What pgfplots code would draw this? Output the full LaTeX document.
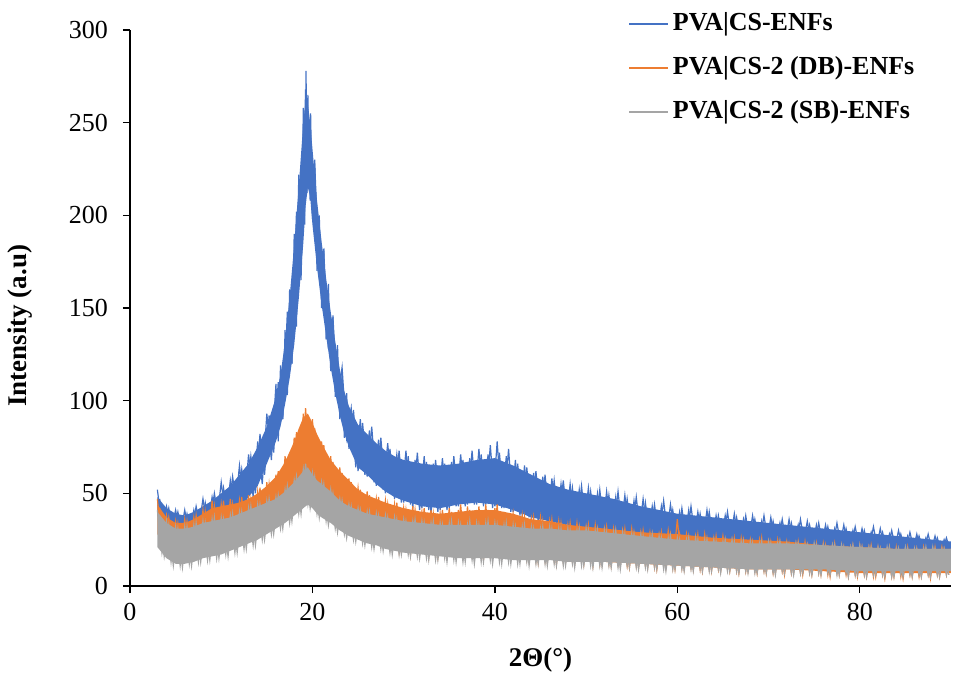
\documentclass[border=0pt]{standalone}
\usepackage{fontspec}
\setmainfont{Liberation Serif}
\usepackage{pgfplots}
\usepackage{pgfplotstable}
\pgfplotsset{compat=1.18}
\definecolor{cblue}{RGB}{68,114,196}
\definecolor{corange}{RGB}{237,125,49}
\definecolor{cgray}{RGB}{165,165,165}

% ---------- band envelopes (upper edge forward, lower edge back) ----------
\pgfplotstableread{
x y
3 48
4 42
5 39
6 38
7 40
8 43
9 46
10 50
11 54
12 60
13 66
14 75
15 86
16 102
16.5 114
17 132
17.5 156
18 184
18.5 216
19 250
19.25 262
19.5 260
19.75 250
20 236
20.5 208
21 186
21.5 166
22 148
22.5 132
23 117
23.5 105
24 97
25 87
26 82
27 77
28 73
29 70
30 68
32 66
34 65
36 66
38 68
40 69
42 65
44 60
46 55
48 52
50 50
53 47
56 43
60 39
64 37
68 35
72 33
76 31
80 29
84 27
88 25
90 24
90 18
88 18
84 19
80 20
76 21
72 22
68 23
64 24
60 25
56 27
53 29
50 31
48 33
46 35
44 37
42 41
40 44
38 45
36 44
34 42
32 43
30 46
29 48
28 51
27 55
26 60
25 64
24 75
23.5 82
23 92
22.5 104
22 118
21.5 135
21 152
20.5 172
20 195
19.75 210
19.5 215
19.25 205
19 185
18.5 155
18 130
17.5 112
17 98
16.5 86
16 78
15 66
14 54
13 48
12 43
11 40
10 37
9 34
8 32
7 30
6 29
5 29
4 32
3 38
}\blueE

\pgfplotstableread{
x y
3 44
4 37
5 34
6 34
7 36
8 39
9 42
10 43
11 44
12 45
13 47
14 50
15 54
16 59
17 67
18 78
18.5 85
19 91
19.5 93
20 88
20.5 82
21 77
22 68
23 62
24 57
25 52
26 49
27 47
28 45
30 42
32 40
34 39
36 40
38 41
40 41
42 39
44 36
46 35
48 33
50 32
52 31
56 29
60 28
64 26
68 25
72 24
76 22
80 21
84 20
88 20
90 20
90 7
88 7
84 7
80 7
76 8
72 9
68 9
64 10
60 11
56 12
52 13
50 14
48 14
46 15
44 15
42 16
40 16
38 16
36 17
34 17
32 18
30 19
28 22
27 24
26 26
25 29
24 32
23 36
22 40
21 47
20.5 51
20 56
19.5 60
19 57
18.5 52
18 47
17 40
16 35
15 31
14 28
13 26
12 24
11 23
10 22
9 21
8 20
7 19
6 18
5 19
4 22
3 28
}\orangeE

\pgfplotstableread{
x y
3 40
4 34
5 31
6 31
7 32
8 34
9 35
10 36
11 37
12 39
13 41
14 43
15 45
16 47
17 51
18 56
18.5 59
19 62
19.5 64
20 60
20.5 57
21 55
22 51
23 46
24 43
25 41
26 39
27 38
28 37
30 35
32 34
34 33
36 33
38 33
40 33
42 32
44 31
46 31
48 30
50 30
52 29
56 27
60 25
64 24
68 23
72 23
76 22
80 21
84 20
88 20
90 20
90 8
88 8
84 8
80 8
76 9
72 9
68 9
64 10
60 11
56 12
52 13
50 13
48 13
46 14
44 14
42 14
40 15
38 15
36 15
34 16
32 17
30 18
28 20
27 22
26 23
25 25
24 27
23 30
22 34
21 37
20.5 39
20 42
19.5 44
19 42
18.5 40
18 38
17 34
16 31
15 28
14 25
13 23
12 21
11 19
10 17
9 16
8 15
7 13
6 12
5 12
4 15
3 21
}\grayE

% ---------- noisy traces (alternating highs and lows read off the bands) ----------
\pgfplotstableread{
x y
3 52
3.5 33
4 43
4.5 29
5 41
5.5 27
6 41
6.5 27
7 41
7.5 30
8 47
8.5 31
9 48
9.5 34
10 56
10.5 36
11 57
11.5 40
12 65
12.5 42
13 71
13.5 48
14 78
14.5 55
15 93
15.5 68
16 109
16.25 78
16.5 119
16.75 90
17 138
17.25 103
17.5 160
17.75 120
18 190
18.25 140
18.5 222
18.75 168
19 258
19.15 195
19.3 278
19.4 212
19.5 265
19.65 218
19.8 255
20 198
20.25 230
20.5 170
20.75 200
21 150
21.25 182
21.5 133
21.75 163
22 116
22.25 146
22.5 102
22.75 130
23 90
23.25 114
23.5 80
23.75 104
24 74
24.5 95
25 62
25.5 88
26 59
26.5 86
27 54
27.5 80
28 50
28.5 74
29 47
29.5 73
30 45
30.5 70
31 42
31.5 72
32 42
32.5 67
33 39
33.5 68
34 41
34.5 66
35 42
35.5 70
36 43
36.5 68
37 44
37.5 73
38 44
38.5 71
39 44
39.5 76
40 43
40.5 72
41 42
41.5 74
42 40
42.5 66
43 38
43.5 64
44 36
44.5 62
45 35
45.5 60
46 34
46.5 57
47 33
47.5 57
48 32
48.5 53
49 31
49.5 54
50 30
50.5 51
51 30
51.5 52
52 29
52.5 49
53 29
53.5 51
54 28
54.5 47
55 28
55.5 48
56 26
56.5 45
57 26
57.5 44
58 25
58.5 46
59 25
59.5 41
60 24
60.5 42
61 24
61.5 43
62 24
62.5 39
63 24
63.5 40
64 23
64.5 38
65 23
65.5 40
66 23
66.5 37
67 23
67.5 38
68 22
68.5 36
69 22
69.5 38
70 22
70.5 35
71 22
71.5 36
72 21
72.5 34
73 21
73.5 36
74 21
74.5 33
75 21
75.5 34
76 20
76.5 32
77 20
77.5 34
78 20
78.5 31
79 20
79.5 32
80 19
80.5 30
81 19
81.5 32
82 19
82.5 29
83 19
83.5 30
84 18
84.5 28
85 18
85.5 29
86 18
86.5 27
87 18
87.5 28
88 17
88.5 26
89 17
89.5 26
90 18
}\blueZ

\pgfplotstableread{
x y
3.25 47
3.75 31
4.25 42
4.75 29
5.25 40
5.75 28
6.25 39
6.75 28
7.25 43
7.75 31
8.25 45
8.75 32
9.25 50
9.75 35
10.25 53
10.75 38
11.25 59
11.75 41
12.25 63
12.75 45
13.25 70
13.75 50
14.25 82
14.75 60
15.25 92
15.75 72
16.25 110
16.75 90
17.25 148
17.75 120
18.25 202
18.75 165
19.25 268
19.75 208
20.25 228
20.75 168
21.25 180
21.75 128
22.25 145
22.75 100
23.25 118
23.75 80
24.25 96
24.75 64
25.25 90
25.75 60
26.25 84
26.75 56
27.25 79
27.75 52
28.25 77
28.75 49
29.25 71
29.75 45
30.25 73
30.75 44
31.25 68
31.75 41
32.25 70
32.75 41
33.25 66
33.75 40
34.25 69
34.75 41
35.25 67
35.75 43
36.25 71
36.75 43
37.25 69
37.75 44
38.25 74
38.75 43
39.25 71
39.75 42
40.25 78
40.75 42
41.25 70
41.75 40
42.25 68
42.75 38
43.25 65
43.75 37
44.25 61
44.75 35
45.25 59
45.75 34
46.25 58
46.75 33
47.25 55
47.75 32
48.25 55
48.75 31
49.25 52
49.75 31
50.25 53
50.75 30
51.25 50
51.75 29
52.25 51
52.75 29
53.25 48
53.75 28
54.25 49
54.75 27
55.25 46
55.75 27
56.25 47
56.75 26
57.25 43
57.75 25
58.25 43
58.75 25
59.25 44
59.75 25
60.25 40
60.75 24
61.25 41
61.75 24
62.25 40
62.75 23
63.25 41
63.75 23
64.25 38
64.75 23
65.25 38
65.75 23
66.25 39
66.75 22
67.25 36
67.75 22
68.25 38
68.75 22
69.25 35
69.75 22
70.25 37
70.75 21
71.25 34
71.75 21
72.25 36
72.75 21
73.25 33
73.75 21
74.25 35
74.75 20
75.25 33
75.75 20
76.25 33
76.75 20
77.25 31
77.75 20
78.25 33
78.75 19
79.25 30
79.75 19
80.25 31
80.75 19
81.25 29
81.75 19
82.25 31
82.75 18
83.25 28
83.75 18
84.25 30
84.75 18
85.25 27
85.75 18
86.25 28
86.75 17
87.25 26
87.75 17
88.25 27
88.75 17
89.25 25
89.75 17
}\blueZb

\pgfplotstableread{
x y
3 47
3.5 24
4 38
4.5 19
5 35
5.5 17
6 36
6.5 18
7 37
7.5 18
8 41
8.5 19
9 46
9.5 20
10 44
10.5 21
11 47
11.5 22
12 46
12.5 24
13 49
13.5 25
14 51
14.5 28
15 56
15.5 32
16 60
16.5 35
17 70
17.5 42
18 80
18.5 50
19 93
19.5 58
20 90
20.5 50
21 78
21.5 42
22 70
22.5 38
23 64
23.5 34
24 58
24.5 30
25 53
25.5 27
26 51
26.5 25
27 47
27.5 23
28 46
28.5 21
29 44
29.5 19
30 42
30.5 18
31 43
31.5 18
32 40
32.5 17
33 41
33.5 16
34 39
34.5 17
35 42
35.5 16
36 41
36.5 16
37 43
37.5 15
38 41
38.5 16
39 44
39.5 15
40 42
40.5 15
41 40
41.5 16
42 39
42.5 14
43 38
43.5 15
44 36
44.5 14
45 37
45.5 14
46 35
46.5 14
47 35
47.5 13
48 33
48.5 13
49 34
49.5 13
50 32
50.5 13
51 33
51.5 12
52 31
52.5 12
53 31
53.5 12
54 30
54.5 11
55 31
55.5 11
56 29
56.5 11
57 29
57.5 10
58 28
58.5 11
59 30
59.5 10
60 36
60.5 10
61 28
61.5 10
62 27
62.5 9
63 28
63.5 9
64 26
64.5 9
65 27
65.5 9
66 25
66.5 8
67 26
67.5 8
68 25
68.5 8
69 25
69.5 8
70 24
70.5 7
71 25
71.5 8
72 24
72.5 7
73 23
73.5 7
74 24
74.5 7
75 22
75.5 7
76 23
76.5 6
77 22
77.5 7
78 22
78.5 6
79 21
79.5 6
80 22
80.5 6
81 21
81.5 5
82 21
82.5 6
83 20
83.5 5
84 21
84.5 5
85 20
85.5 6
86 20
86.5 5
87 21
87.5 6
88 20
88.5 6
89 21
89.5 6
90 20
}\orangeZ

\pgfplotstableread{
x y
3.25 42
3.75 21
4.25 37
4.75 18
5.25 34
5.75 17
6.25 35
6.75 17
7.25 38
7.75 18
8.25 40
8.75 19
9.25 43
9.75 20
10.25 46
10.75 21
11.25 44
11.75 22
12.25 48
12.75 24
13.25 47
13.75 26
14.25 53
14.75 29
15.25 55
15.75 33
16.25 62
16.75 37
17.25 69
17.75 44
18.25 83
18.75 53
19.25 96
19.75 56
20.25 85
20.75 47
21.25 76
21.75 41
22.25 67
22.75 36
23.25 61
23.75 31
24.25 56
24.75 28
25.25 52
25.75 25
26.25 49
26.75 23
27.25 48
27.75 21
28.25 44
28.75 20
29.25 45
29.75 18
30.25 41
30.75 17
31.25 41
31.75 17
32.25 42
32.75 16
33.25 39
33.75 16
34.25 41
34.75 15
35.25 40
35.75 16
36.25 44
36.75 15
37.25 41
37.75 15
38.25 43
38.75 14
39.25 41
39.75 15
40.25 44
40.75 14
41.25 39
41.75 14
42.25 38
42.75 13
43.25 37
43.75 14
44.25 37
44.75 13
45.25 35
45.75 13
46.25 36
46.75 12
47.25 34
47.75 13
48.25 34
48.75 12
49.25 32
49.75 12
50.25 33
50.75 11
51.25 31
51.75 12
52.25 32
52.75 11
53.25 30
53.75 11
54.25 31
54.75 10
55.25 29
55.75 10
56.25 30
56.75 10
57.25 28
57.75 9
58.25 29
58.75 10
59.25 28
59.75 9
60.25 28
60.75 9
61.25 27
61.75 9
62.25 28
62.75 8
63.25 26
63.75 8
64.25 27
64.75 8
65.25 25
65.75 8
66.25 26
66.75 7
67.25 25
67.75 8
68.25 24
68.75 7
69.25 26
69.75 7
70.25 24
70.75 7
71.25 24
71.75 6
72.25 23
72.75 7
73.25 24
73.75 6
74.25 22
74.75 6
75.25 23
75.75 6
76.25 22
76.75 5
77.25 23
77.75 6
78.25 21
78.75 5
79.25 22
79.75 5
80.25 21
80.75 5
81.25 22
81.75 5
82.25 20
82.75 4
83.25 21
83.75 5
84.25 20
84.75 4
85.25 21
85.75 5
86.25 20
86.75 5
87.25 20
87.75 4
88.25 21
88.75 5
89.25 20
89.75 6
}\orangeZb

\pgfplotstableread{
x y
3 41
3.5 18
4 35
4.5 13
5 32
5.5 11
6 32
6.5 12
7 33
7.5 13
8 35
8.5 14
9 36
9.5 15
10 37
10.5 17
11 38
11.5 18
12 40
12.5 20
13 42
13.5 22
14 44
14.5 25
15 46
15.5 28
16 48
16.5 31
17 52
17.5 34
18 57
18.5 39
19 63
19.5 44
20 61
20.5 39
21 56
21.5 35
22 52
22.5 31
23 47
23.5 28
24 44
24.5 25
25 42
25.5 23
26 40
26.5 21
27 39
27.5 20
28 38
28.5 18
29 37
29.5 17
30 36
30.5 17
31 35
31.5 16
32 35
32.5 15
33 34
33.5 14
34 34
34.5 15
35 34
35.5 14
36 34
36.5 13
37 33
37.5 14
38 34
38.5 13
39 34
39.5 14
40 34
40.5 13
41 33
41.5 13
42 33
42.5 12
43 32
43.5 13
44 32
44.5 12
45 31
45.5 12
46 32
46.5 12
47 31
47.5 11
48 31
48.5 12
49 30
49.5 11
50 31
50.5 11
51 30
51.5 11
52 30
52.5 11
53 29
53.5 10
54 29
54.5 11
55 28
55.5 10
56 28
56.5 10
57 27
57.5 10
58 27
58.5 9
59 26
59.5 9
60 26
60.5 9
61 25
61.5 9
62 26
62.5 9
63 25
63.5 8
64 25
64.5 9
65 24
65.5 8
66 25
66.5 8
67 24
67.5 8
68 24
68.5 7
69 23
69.5 8
70 24
70.5 7
71 23
71.5 8
72 23
72.5 7
73 23
73.5 7
74 22
74.5 7
75 23
75.5 7
76 22
76.5 7
77 22
77.5 6
78 22
78.5 7
79 21
79.5 6
80 22
80.5 6
81 21
81.5 6
82 21
82.5 6
83 21
83.5 5
84 20
84.5 6
85 21
85.5 6
86 20
86.5 6
87 20
87.5 6
88 21
88.5 6
89 20
89.5 6
90 20
}\grayZ

\pgfplotstableread{
x y
3.25 38
3.75 16
4.25 33
4.75 11
5.25 31
5.75 10
6.25 32
6.75 11
7.25 34
7.75 13
8.25 34
8.75 14
9.25 37
9.75 15
10.25 36
10.75 16
11.25 39
11.75 18
12.25 40
12.75 20
13.25 43
13.75 22
14.25 44
14.75 25
15.25 47
15.75 28
16.25 49
16.75 31
17.25 54
17.75 35
18.25 59
18.75 39
19.25 66
19.75 42
20.25 59
20.75 37
21.25 55
21.75 33
22.25 50
22.75 29
23.25 46
23.75 26
24.25 43
24.75 24
25.25 41
25.75 22
26.25 40
26.75 20
27.25 38
27.75 19
28.25 37
28.75 17
29.25 36
29.75 17
30.25 35
30.75 16
31.25 36
31.75 15
32.25 34
32.75 14
33.25 35
33.75 14
34.25 33
34.75 13
35.25 35
35.75 13
36.25 33
36.75 13
37.25 35
37.75 12
38.25 33
38.75 13
39.25 35
39.75 12
40.25 33
40.75 12
41.25 34
41.75 12
42.25 32
42.75 12
43.25 33
43.75 11
44.25 31
44.75 12
45.25 32
45.75 11
46.25 31
46.75 11
47.25 31
47.75 11
48.25 30
48.75 10
49.25 31
49.75 11
50.25 30
50.75 10
51.25 30
51.75 10
52.25 29
52.75 10
53.25 30
53.75 9
54.25 28
54.75 10
55.25 28
55.75 9
56.25 27
56.75 9
57.25 28
57.75 9
58.25 26
58.75 8
59.25 27
59.75 9
60.25 25
60.75 8
61.25 26
61.75 8
62.25 25
62.75 8
63.25 25
63.75 8
64.25 24
64.75 7
65.25 25
65.75 8
66.25 24
66.75 7
67.25 24
67.75 7
68.25 23
68.75 7
69.25 24
69.75 7
70.25 23
70.75 6
71.25 24
71.75 7
72.25 22
72.75 6
73.25 23
73.75 7
74.25 22
74.75 6
75.25 22
75.75 6
76.25 21
76.75 6
77.25 22
77.75 6
78.25 21
78.75 5
79.25 22
79.75 6
80.25 21
80.75 5
81.25 21
81.75 6
82.25 20
82.75 5
83.25 21
83.75 5
84.25 20
84.75 5
85.25 20
85.75 5
86.25 20
86.75 5
87.25 21
87.75 5
88.25 20
88.75 5
89.25 20
89.75 6
}\grayZb

\begin{document}
\begin{tikzpicture}
\begin{axis}[
  at={(0,0)}, anchor=south west,
  scale only axis, width=410.5pt, height=278pt,
  xmin=0, xmax=90, ymin=0, ymax=300,
  xtick={0,20,40,60,80}, ytick={0,50,100,150,200,250,300},
  minor tick num=0,
  axis x line*=bottom, axis y line*=left,
  axis line style={line width=0.7pt, black},
  tick align=outside, major tick length=3.5pt,
  tick style={line width=0.7pt, black},
  /pgf/number format/assume math mode=true,
  tick label style={font=\fontsize{13}{15}\selectfont},
  yticklabel style={xshift=-4pt},
  xticklabel style={yshift=-1.5pt},
  xlabel={\textbf{2Θ(°)}},
  ylabel={\textbf{Intensity (a.u)}},
  label style={font=\fontsize{13.5}{16}\selectfont},
  xlabel style={at={(axis description cs:0.5,-0.133)}, anchor=center},
  ylabel style={at={(axis description cs:-0.134,0.468)}, anchor=center},
  clip=true,
  legend cell align=left,
  legend image code/.code={\draw[#1, line width=0.9pt] (0pt,0pt) -- (19.5pt,0pt);},
  legend style={draw=none, fill=none, at={(axis description cs:0.599,1.049)}, anchor=north west,
    font=\fontsize{13}{15}\selectfont\bfseries, row sep=5.5pt,
    nodes={inner sep=2pt, text height=9.5pt, text depth=3pt}},
]
\addplot[fill=cblue, draw=none, forget plot] table {\blueE};
\addplot[cblue, line width=0.6pt, forget plot] table {\blueZb};
\addplot[cblue, line width=0.6pt] table {\blueZ};
\addplot[fill=corange, draw=none, forget plot] table {\orangeE};
\addplot[corange, line width=0.6pt, forget plot] table {\orangeZb};
\addplot[corange, line width=0.6pt] table {\orangeZ};
\addplot[fill=cgray, draw=none, forget plot] table {\grayE};
\addplot[cgray, line width=0.6pt, forget plot] table {\grayZb};
\addplot[cgray, line width=0.6pt] table {\grayZ};
\legend{PVA|CS-ENFs, PVA|CS-2 (DB)-ENFs, PVA|CS-2 (SB)-ENFs}
\end{axis}
\pgfresetboundingbox
\useasboundingbox (-65pt,-44.5pt) rectangle (411.5pt,293pt);
\end{tikzpicture}
\end{document}
